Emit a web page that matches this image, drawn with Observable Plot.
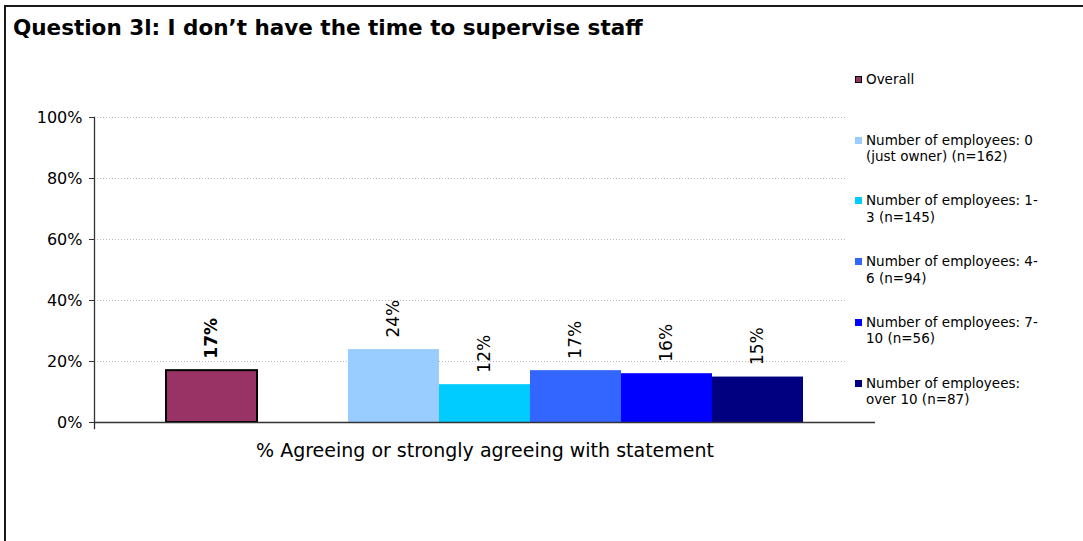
<!DOCTYPE html>
<html>
<head>
<meta charset="utf-8">
<script src="https://cdn.jsdelivr.net/npm/d3@7"></script>
<script src="https://cdn.jsdelivr.net/npm/@observablehq/plot@0.6"></script>
<style>
  html, body { margin: 0; padding: 0; background: #fff; }
  #wrap { position: relative; width: 1083px; height: 541px; overflow: hidden; font-family: "DejaVu Sans", Verdana, sans-serif; }
  #frame { position: absolute; left: 4px; top: 5px; width: 1100px; height: 600px; border-top: 2px solid #1a1a1a; border-left: 2px solid #1a1a1a; box-sizing: border-box; }
  #title { position: absolute; left: 13px; top: 15px; font-family: "DejaVu Sans", sans-serif; font-weight: bold; font-size: 21.5px; color: #000; white-space: nowrap; }
  #chart { position: absolute; left: 0; top: 0; }
  #legend { position: absolute; left: 847px; top: 62px; width: 230px; height: 350px; background: #fff; }
  .item { position: absolute; left: 8px; width: 200px; height: 60px; }
  .sw { position: absolute; left: 0; top: 5px; width: 7px; height: 7px; box-sizing: border-box; }
  .lab { position: absolute; left: 11px; top: 0; width: 176px; font-size: 13.5px; line-height: 16.5px; color: #000; }
</style>
</head>
<body>
<div id="wrap">
  <div id="chart"></div>
  <div id="legend"></div>
  <div id="frame"></div>
  <div id="title"></div>
</div>
<script>
const title = "Question 3l: I don\u2019t have the time to supervise staff";
const groups = [
  "Overall",
  "Number of employees: 0 (just owner) (n=162)",
  "Number of employees: 1-3 (n=145)",
  "Number of employees: 4-6 (n=94)",
  "Number of employees: 7-10 (n=56)",
  "Number of employees: over 10 (n=87)"
];
const values = [0.17, 0.239, 0.124, 0.17, 0.16, 0.149];
const palette = ["#993366", "#99CCFF", "#00CCFF", "#3366FF", "#0000FF", "#000080"];
const yTicks = [0, 0.2, 0.4, 0.6, 0.8, 1.0];
const categoryLabel = "% Agreeing or strongly agreeing with statement";

const gapKey = "\u00a0";
const xDomain = [groups[0], gapKey, ...groups.slice(1)];
const data = groups.map((g, i) => ({group: g, value: values[i], color: palette[i], overall: i === 0}));
const fmt = d3.format(".0%");

document.getElementById("title").textContent = title;

const chart = Plot.plot({
  width: 1083,
  height: 541,
  marginLeft: 94,
  marginRight: 208,
  marginTop: 117,
  marginBottom: 119,
  style: {fontFamily: "'DejaVu Sans', Verdana, sans-serif", background: "transparent", color: "#000"},
  x: {domain: xDomain, type: "band", paddingInner: 0, paddingOuter: 0.745},
  y: {domain: [0, 1]},
  color: {type: "identity"},
  marks: [
    Plot.gridY(yTicks.filter(d => d > 0), {stroke: "#b8b8b8", strokeOpacity: 1, strokeDasharray: "1,2"}),
    Plot.barY(data, {x: "group", y: "value", fill: "color", stroke: d => d.overall ? "#000" : "none", strokeWidth: 2}),
    Plot.text(data.filter(d => d.overall), {x: "group", y: "value", text: d => fmt(d.value), rotate: -90, textAnchor: "start", lineAnchor: "middle", dy: -12, fontSize: 17, fontWeight: "bold", fill: "#000"}),
    Plot.text(data.filter(d => !d.overall), {x: "group", y: "value", text: d => fmt(d.value), rotate: -90, textAnchor: "start", lineAnchor: "middle", dy: -12, fontSize: 17, fill: "#000"}),
    Plot.ruleY([0], {stroke: "#333", strokeWidth: 1.3}),
    Plot.frame({anchor: "left", stroke: "#333", strokeWidth: 1.3, insetBottom: -6}),
    Plot.axisY({ticks: yTicks, tickFormat: fmt, tickSize: 5, tickPadding: 7, fontSize: 16, label: null, stroke: "#333"}),
    Plot.axisX({ticks: [], label: categoryLabel, labelAnchor: "center", labelOffset: 34, fontSize: 19, tickSize: 0})
  ]
});
document.getElementById("chart").appendChild(chart);

const legend = document.getElementById("legend");
const slot = 60.75;
groups.forEach((g, i) => {
  const it = document.createElement("div");
  it.className = "item";
  it.style.top = (8.75 + i * slot) + "px";
  const sw = document.createElement("div");
  sw.className = "sw";
  sw.style.background = palette[i];
  if (i === 0) sw.style.border = "1px solid #000";
  const lab = document.createElement("div");
  lab.className = "lab";
  lab.textContent = g;
  it.appendChild(sw);
  it.appendChild(lab);
  legend.appendChild(it);
});
</script>
</body>
</html>
